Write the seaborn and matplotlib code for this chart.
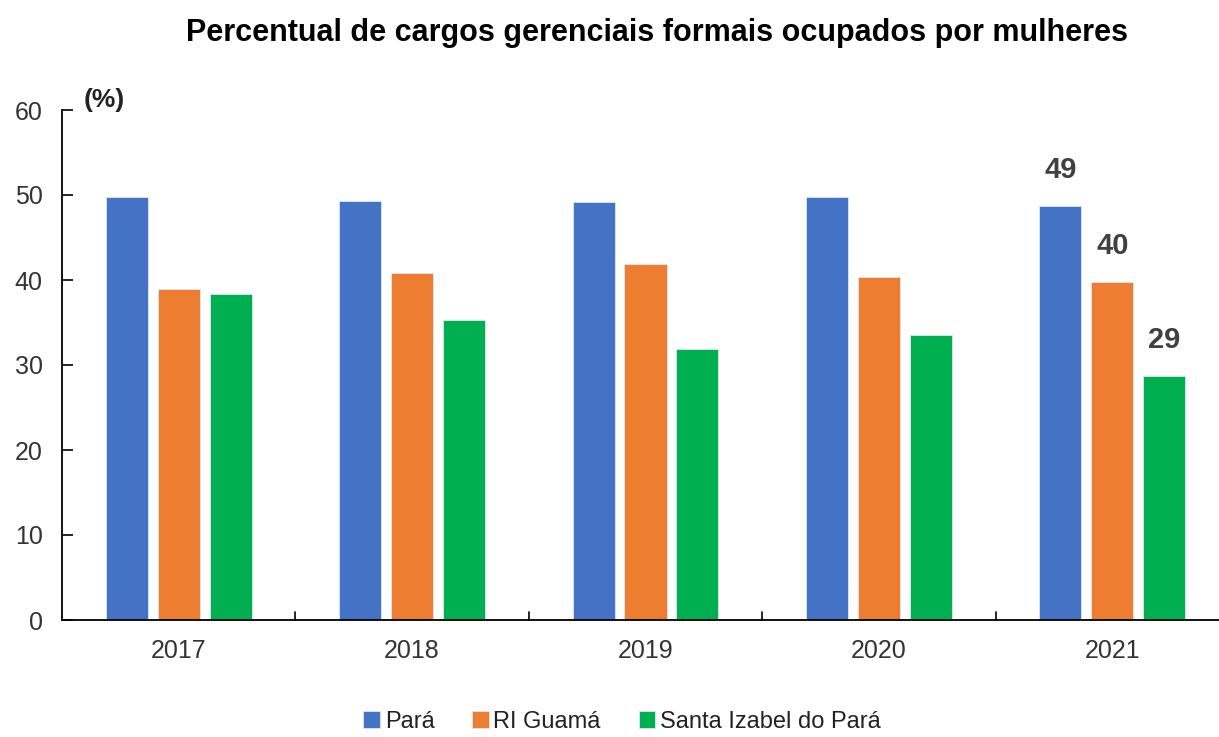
import matplotlib
matplotlib.use("Agg")
import matplotlib.pyplot as plt
import pandas as pd
import seaborn as sns

years = ["2017", "2018", "2019", "2020", "2021"]
series = ["Pará", "RI Guamá", "Santa Izabel do Pará"]
para = [49.8, 49.3, 49.2, 49.8, 48.7]
ri_guama = [38.9, 40.8, 41.9, 40.4, 39.8]
santa_izabel = [38.4, 35.3, 31.9, 33.5, 28.7]
colors = ["#4472C4", "#ED7D31", "#00B050"]

rows = []
for name, vals in zip(series, [para, ri_guama, santa_izabel]):
    for year, v in zip(years, vals):
        rows.append({"ano": year, "serie": name, "valor": v})
df = pd.DataFrame(rows)

sns.set_theme(style="white")
plt.rcParams["font.family"] = ["Liberation Sans Narrow", "Liberation Sans", "DejaVu Sans"]

fig = plt.figure(figsize=(12.19, 7.37), dpi=100)
ax = fig.add_axes([62 / 1219, 117 / 737, 1167 / 1219, 510 / 737])

sns.barplot(
    data=df, x="ano", y="valor", hue="serie", order=years, hue_order=series,
    palette=colors, saturation=1, width=0.667, gap=0.19, edgecolor="#dde6f5",
    linewidth=0.6, ax=ax, legend=True,
)

ax.set_ylim(0, 60)
ax.set_xlim(-0.5, 4.5)
ax.set_yticks(range(0, 61, 10))
ax.set_xlabel("")
ax.set_ylabel("")
for side in ["top", "right"]:
    ax.spines[side].set_visible(False)
for side in ["left", "bottom"]:
    ax.spines[side].set_color("black")
    ax.spines[side].set_linewidth(1.3)

ax.tick_params(axis="y", direction="in", length=8, width=1.2, labelsize=18,
               colors="black", labelcolor="#333333", pad=14, left=True)
ax.tick_params(axis="x", length=0, labelsize=18, labelcolor="#333333", pad=14)
for b in [0.5, 1.5, 2.5, 3.5]:
    ax.plot([b, b], [0, 0.9], color="black", lw=1.2, clip_on=False)

# rótulos apenas para 2021
last = len(years) - 1
for cont, vals in zip(ax.containers, [para, ri_guama, santa_izabel]):
    bar = cont[last]
    ax.text(bar.get_x() + bar.get_width() / 2, bar.get_height() + 2.6,
            f"{vals[last]:.0f}", ha="center", va="bottom",
            fontsize=21, fontweight="bold", color="#404040")

fig.text(84 / 1219, 1 - 100 / 737, "(%)", fontsize=19,
         fontweight="bold", color="#222222", ha="left", va="center")
fig.text(657 / 1219, 1 - 33 / 737, "Percentual de cargos gerenciais formais ocupados por mulheres",
         ha="center", va="center", fontsize=22, fontweight="bold", color="black")

handles, labels = ax.get_legend_handles_labels()
ax.legend_.remove()
fig.legend(handles, labels, loc="center", bbox_to_anchor=(622 / 1219, 1 - 722 / 737),
           ncol=3, frameon=False, fontsize=17, handlelength=0.7, handleheight=0.7,
           handletextpad=0.2, columnspacing=1.6, labelcolor="#222222")

fig.savefig("out.png", dpi=100)
